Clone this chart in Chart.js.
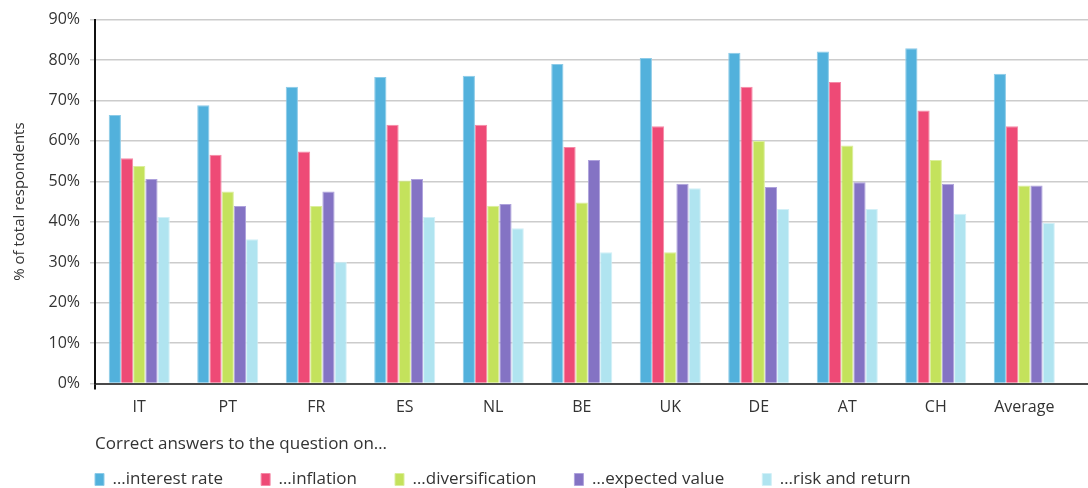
<!DOCTYPE html>
<html>
<head>
<meta charset="utf-8">
<script src="https://cdn.jsdelivr.net/npm/chart.js@4/dist/chart.umd.min.js"></script>
<style>
  html, body { margin: 0; padding: 0; background: #ffffff; }
  #wrap { width: 1088px; height: 488px; }
</style>
</head>
<body>
<div id="wrap"><canvas id="c" width="1088" height="488"></canvas></div>
<script>
// ---- data ----
const categories = ['IT', 'PT', 'FR', 'ES', 'NL', 'BE', 'UK', 'DE', 'AT', 'CH', 'Average'];
const interestRate    = [66.4, 68.8, 73.4, 75.8, 76.1, 79.0, 80.5, 81.8, 82.1, 82.9, 76.6];
const inflation       = [55.7, 56.6, 57.4, 64.0, 64.0, 58.5, 63.6, 73.4, 74.6, 67.5, 63.6];
const diversification = [53.8, 47.5, 43.9, 50.2, 44.0, 44.8, 32.5, 60.0, 58.9, 55.3, 49.0];
const expectedValue   = [50.6, 43.9, 47.5, 50.6, 44.4, 55.3, 49.4, 48.6, 49.8, 49.4, 49.0];
const riskAndReturn   = [41.2, 35.7, 30.1, 41.2, 38.4, 32.5, 48.3, 43.2, 43.2, 42.0, 39.7];
const seriesNames = ['…interest rate', '…inflation', '…diversification', '…expected value', '…risk and return'];
const yTickValues = [0, 10, 20, 30, 40, 50, 60, 70, 80, 90];
const yAxisTitle = '% of total respondents';
const legendTitle = 'Correct answers to the question on…';

// ---- styles / layout ----
const fills = ['#52B1DC', '#EE4A76', '#C4E25C', '#8473C4', '#B0E4F0'];
const edges = ['#8ccbe8', '#f58aa7', '#dbee9c', '#aea2dc', '#d2f0f7'];
const FONT = "'Open Sans', 'DejaVu Sans', sans-serif";
const TEXT = '#333333';
const X_RIGHT_EXTRA = 0.22;   // empty room after the last group, in category widths

const seriesValues = [interestRate, inflation, diversification, expectedValue, riskAndReturn];

// Place the legend row where the reference has it (left-aligned with the plot area)
const legendPlacer = {
  id: 'legendPlacer',
  afterLayout(chart) {
    const lg = chart.legend;
    if (!lg) return;
    const pad = lg.options.labels.padding;
    lg.left = chart.chartArea.left - pad;
    lg.right = chart.width;
    lg.top = 471 - pad;
    lg.bottom = chart.height;
  }
};

new Chart(document.getElementById('c'), {
  type: 'bar',
  data: {
    labels: categories,
    datasets: seriesValues.map((vals, i) => ({
      label: seriesNames[i],
      data: vals,
      backgroundColor: fills[i],
      borderColor: edges[i],
      borderWidth: 1,
      categoryPercentage: 0.69,
      barPercentage: 1.0
    }))
  },
  options: {
    responsive: false,
    animation: false,
    devicePixelRatio: 1,
    layout: { padding: { top: 19, right: 0, left: 0, bottom: 0 } },
    scales: {
      x: {
        afterFit(scale) { scale.height = 34; },
        afterBuildTicks(scale) { scale._valueRange = categories.length + X_RIGHT_EXTRA; },
        grid: {
          display: true,
          drawOnChartArea: false,
          drawTicks: true,
          tickLength: 6,
          offset: true,
          lineWidth: 2,
          color: (ctx) => ctx.index === 0 ? '#111111' : 'rgba(0,0,0,0)'
        },
        border: { display: true, color: '#4a4a4a', width: 2 },
        ticks: { color: TEXT, font: { family: FONT, size: 16 }, padding: 8 }
      },
      y: {
        min: 0,
        max: 90,
        afterFit(scale) { scale.width = 95; },
        afterBuildTicks(scale) { scale.ticks = yTickValues.map(v => ({ value: v })); },
        grid: {
          color: '#cccccc',
          lineWidth: 1.5,
          drawTicks: true,
          tickLength: 5
        },
        border: { display: true, color: '#111111', width: 2 },
        ticks: {
          color: TEXT,
          font: { family: FONT, size: 16 },
          padding: 10,
          callback: (v) => v + '%'
        },
        title: {
          display: true,
          text: yAxisTitle,
          color: TEXT,
          font: { family: FONT, size: 15 },
          padding: { top: 11, bottom: 0 }
        }
      }
    },
    plugins: {
      tooltip: { enabled: false },
      title: {
        display: true,
        text: legendTitle,
        position: 'bottom',
        align: 'start',
        fullSize: false,
        weight: 500,
        color: TEXT,
        font: { family: FONT, size: 17, weight: 'normal' },
        padding: { top: 16, bottom: 4 }
      },
      legend: {
        display: true,
        position: 'bottom',
        align: 'start',
        fullSize: true,
        maxHeight: 30,
        labels: {
          color: TEXT,
          font: { family: FONT, size: 17 },
          boxWidth: 9,
          boxHeight: 12,
          padding: 38
        }
      }
    }
  },
  plugins: [legendPlacer]
});
</script>
</body>
</html>
